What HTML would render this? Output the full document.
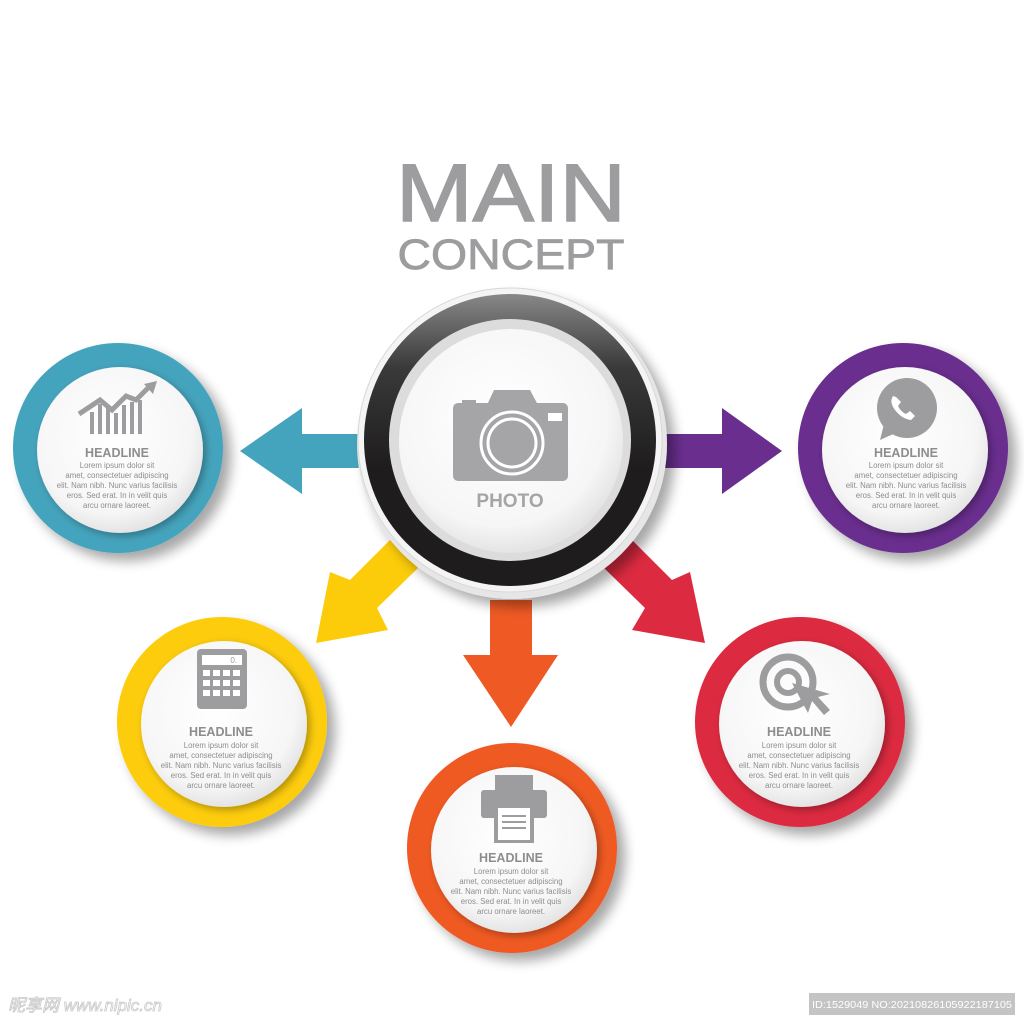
<!DOCTYPE html>
<html><head><meta charset="utf-8"><style>
html,body{margin:0;padding:0;background:#fff}
svg{display:block}
text{font-family:"Liberation Sans",Arial,sans-serif}
</style></head><body>
<svg width="1024" height="1023" viewBox="0 0 1024 1023" xmlns="http://www.w3.org/2000/svg">
<defs>
<radialGradient id="wg" cx="0.45" cy="0.4" r="0.6"><stop offset="0" stop-color="#ffffff"/><stop offset="0.8" stop-color="#f6f6f6"/><stop offset="1" stop-color="#e4e4e4"/></radialGradient>
<filter id="sh" x="-30%" y="-30%" width="160%" height="160%"><feGaussianBlur in="SourceAlpha" stdDeviation="6"/><feOffset dx="8" dy="8"/><feComponentTransfer><feFuncA type="linear" slope="0.35"/></feComponentTransfer><feMerge><feMergeNode/><feMergeNode in="SourceGraphic"/></feMerge></filter>
<filter id="sh2" x="-30%" y="-30%" width="160%" height="160%"><feGaussianBlur in="SourceAlpha" stdDeviation="4"/><feOffset dx="3" dy="3"/><feComponentTransfer><feFuncA type="linear" slope="0.3"/></feComponentTransfer><feMerge><feMergeNode/><feMergeNode in="SourceGraphic"/></feMerge></filter>
<linearGradient id="bk" x1="0" y1="0" x2="0" y2="1"><stop offset="0" stop-color="#888"/><stop offset="0.25" stop-color="#3a3a3a"/><stop offset="0.6" stop-color="#1e1c1d"/><stop offset="1" stop-color="#1e1c1d"/></linearGradient>
</defs>

<text x="511" y="221" font-size="82" fill="#9d9d9f" stroke="#9d9d9f" stroke-width="1.5" text-anchor="middle" textLength="230" lengthAdjust="spacingAndGlyphs">MAIN</text>
<text x="511" y="269" font-size="43" fill="#9d9d9f" stroke="#9d9d9f" stroke-width="0.8" text-anchor="middle" textLength="227" lengthAdjust="spacingAndGlyphs">CONCEPT</text>

<!-- arrows -->
<polygon points="360,434 302,434 302,408 240,451 302,494 302,468 360,468" fill="#45a4bd"/>
<polygon points="660,434 722,434 722,408 782,451 722,494 722,468 660,468" fill="#6a2f8e"/>
<polygon points="490,600 490,655 463,655 511,727 558,655 532,655 532,600" fill="#ef5a24"/>
<polygon points="390,540 418,568 377,608 388,630 316,643 330,572 350,580" fill="#fccc0a"/>
<polygon points="632,540 604,568 645,608 632,630 705,643 690,572 672,580" fill="#dc2a40"/>

<!-- satellites -->
<g filter="url(#sh)">
<circle cx="118" cy="448" r="105" fill="#45a4bd"/>
<circle cx="903" cy="448" r="105" fill="#6a2f8e"/>
<circle cx="222" cy="722" r="105" fill="#fccc0a"/>
<circle cx="800" cy="722" r="105" fill="#dc2a40"/>
<circle cx="512" cy="848" r="105" fill="#ef5a24"/>
</g>
<g filter="url(#sh2)">
<circle cx="120" cy="450" r="83" fill="url(#wg)"/>
<circle cx="905" cy="450" r="83" fill="url(#wg)"/>
<circle cx="224" cy="724" r="83" fill="url(#wg)"/>
<circle cx="802" cy="724" r="83" fill="url(#wg)"/>
<circle cx="514" cy="850" r="83" fill="url(#wg)"/>
</g>

<!-- icons -->
<g fill="#9d9d9f" stroke="none">
 <!-- chart -->
 <rect x="90" y="412" width="4" height="22"/><rect x="98" y="404" width="4" height="30"/><rect x="106" y="408" width="4" height="26"/><rect x="114" y="413" width="4" height="21"/><rect x="122" y="405" width="4" height="29"/><rect x="130" y="402" width="4" height="32"/><rect x="138" y="400" width="4" height="34"/>
 <polyline points="79,414 100,400 112,410 126,396 136,400 150,386" fill="none" stroke="#9d9d9f" stroke-width="5"/>
 <polygon points="144,384 157,381 153,394"/>
 <!-- phone bubble -->
 <circle cx="907" cy="408" r="30"/>
 <polygon points="884,424 880,440 898,432"/>
 <!-- calculator -->
 <rect x="197" y="649" width="50" height="60" rx="4"/>
 <!-- printer -->
 <rect x="481" y="790" width="66" height="28" rx="3"/>
 <rect x="495" y="775" width="38" height="18" fill="#9d9d9f"/>
 <rect x="494" y="805" width="40" height="38" fill="#9d9d9f"/>
 <!-- target -->
 <circle cx="788" cy="682" r="25" fill="none" stroke="#9d9d9f" stroke-width="7"/>
 <circle cx="788" cy="682" r="11" fill="none" stroke="#9d9d9f" stroke-width="6"/>
 <polygon points="792,683 808,713 812,701 824,715 830,710 818,697 830,694"/>
</g>
<g fill="#fff">
 <path d="M893 396 q-4 6 2 14 q7 9 16 10 l4-4 -5-5 -4 3 q-5-2-8-8 l3-4 -5-5z"/>
 <rect x="202" y="655" width="40" height="10"/>
 <g><rect x="203" y="670" width="7" height="6"/><rect x="213" y="670" width="7" height="6"/><rect x="223" y="670" width="7" height="6"/><rect x="233" y="670" width="7" height="6"/>
 <rect x="203" y="680" width="7" height="6"/><rect x="213" y="680" width="7" height="6"/><rect x="223" y="680" width="7" height="6"/><rect x="233" y="680" width="7" height="6"/>
 <rect x="203" y="690" width="7" height="6"/><rect x="213" y="690" width="7" height="6"/><rect x="223" y="690" width="7" height="6"/><rect x="233" y="690" width="7" height="6"/></g>
 <rect x="498" y="808" width="32" height="32"/>
</g>
<g stroke="#9d9d9f" stroke-width="2"><line x1="502" y1="816" x2="526" y2="816"/><line x1="502" y1="822" x2="526" y2="822"/><line x1="502" y1="828" x2="526" y2="828"/></g>
<text x="237" y="663" font-size="8" fill="#9d9d9f" text-anchor="end">0.</text>

<!-- satellite texts -->
<g font-size="12.5" font-weight="bold" fill="#8d8d8f" text-anchor="middle">
<text x="117" y="457">HEADLINE</text><text x="906" y="457">HEADLINE</text><text x="221" y="736">HEADLINE</text><text x="799" y="736">HEADLINE</text><text x="511" y="862">HEADLINE</text>
</g>
<g font-size="7.8" fill="#8d8d8f" text-anchor="middle">
<g transform="translate(117,468)"><text y="0">Lorem ipsum dolor sit</text><text y="10">amet, consectetuer adipiscing</text><text y="20">elit. Nam nibh. Nunc varius facilisis</text><text y="30">eros. Sed erat. In in velit quis</text><text y="40">arcu ornare laoreet.</text></g>
<g transform="translate(906,468)"><text y="0">Lorem ipsum dolor sit</text><text y="10">amet, consectetuer adipiscing</text><text y="20">elit. Nam nibh. Nunc varius facilisis</text><text y="30">eros. Sed erat. In in velit quis</text><text y="40">arcu ornare laoreet.</text></g>
<g transform="translate(221,748)"><text y="0">Lorem ipsum dolor sit</text><text y="10">amet, consectetuer adipiscing</text><text y="20">elit. Nam nibh. Nunc varius facilisis</text><text y="30">eros. Sed erat. In in velit quis</text><text y="40">arcu ornare laoreet.</text></g>
<g transform="translate(799,748)"><text y="0">Lorem ipsum dolor sit</text><text y="10">amet, consectetuer adipiscing</text><text y="20">elit. Nam nibh. Nunc varius facilisis</text><text y="30">eros. Sed erat. In in velit quis</text><text y="40">arcu ornare laoreet.</text></g>
<g transform="translate(511,874)"><text y="0">Lorem ipsum dolor sit</text><text y="10">amet, consectetuer adipiscing</text><text y="20">elit. Nam nibh. Nunc varius facilisis</text><text y="30">eros. Sed erat. In in velit quis</text><text y="40">arcu ornare laoreet.</text></g>
</g>

<!-- center -->
<circle cx="512" cy="444" r="155" fill="#e6e6e6" filter="url(#sh)"/>
<circle cx="510" cy="440" r="152" fill="#f4f4f4" stroke="#d8d8d8" stroke-width="1"/>
<circle cx="510" cy="440" r="146" fill="url(#bk)"/>
<circle cx="510" cy="440" r="121" fill="#dcdcdc"/>
<circle cx="511" cy="441" r="112" fill="url(#wg)"/>
<g fill="#a5a5a8">
 <rect x="453" y="403" width="115" height="78" rx="5"/>
 <polygon points="487,405 494,390 530,390 538,405"/>
 <rect x="462" y="400" width="14" height="8"/>
</g>
<rect x="548" y="413" width="14" height="8" fill="#fff"/>
<circle cx="512" cy="443" r="31" fill="none" stroke="#fff" stroke-width="3"/>
<circle cx="512" cy="443" r="24" fill="none" stroke="#fff" stroke-width="3"/>
<text x="510" y="507" font-size="19" font-weight="bold" fill="#a5a5a8" text-anchor="middle">PHOTO</text>

<!-- watermark -->
<text x="8" y="1011" font-size="17" fill="none" stroke="#c8c8c8" stroke-width="0.8" font-style="italic" style='font-family:"Liberation Sans","Noto Sans CJK SC",sans-serif'>昵享网 www.nipic.cn</text>
<rect x="809" y="993" width="206" height="22" fill="#c4c4c4"/>
<text x="912" y="1008" font-size="10.5" fill="#fff" text-anchor="middle" textLength="200" lengthAdjust="spacingAndGlyphs">ID:1529049 NO:20210826105922187105</text>
</svg>
</body></html>
